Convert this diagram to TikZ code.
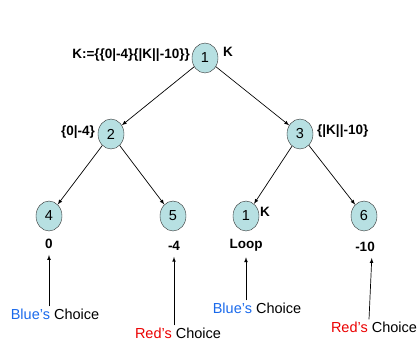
\documentclass[tikz,border=0pt]{standalone}
\usepackage{fontspec}
\setmainfont{Liberation Sans}
\usetikzlibrary{shapes.geometric}
\definecolor{vertfill}{RGB}{183,224,226}
\definecolor{bluechoice}{RGB}{25,105,235}
\definecolor{redchoice}{RGB}{235,0,0}

\begin{document}
\begin{tikzpicture}[x=1pt, y=-1pt,
		vert/.style={ellipse, draw=black!80, fill=vertfill, minimum width=26pt, minimum height=30pt, inner sep=0pt, font=\fontsize{14.5}{16}\selectfont},
		lbl/.style={inner sep=1pt, font=\bfseries\fontsize{13.5}{15}\selectfont},
		choice/.style={inner sep=2pt, font=\fontsize{14.5}{16}\selectfont},
		edge/.style={->, >=latex, line width=0.7pt}]
	\useasboundingbox (0,0) rectangle (417,343);

	\node[vert] (r) at (205,58) {1};
	\node[vert] (a) at (111,134) {2};
	\node[vert] (b) at (300,134) {3};
	\node[vert] (aa) at (49,216) {4};
	\node[vert] (ab) at (173,216) {5};
	\node[vert] (ba) at (246,216) {1};
	\node[vert] (bb) at (364,216) {6};

	\foreach \p/\c in {r/a, r/b, a/aa, a/ab, b/ba, b/bb}
		\draw[edge] (\p) -- (\c);

	\node[lbl, anchor=east] (defK) at (191,55) {K:=\{\{0|-4\}\{|K||-10\}\}};
	\node[lbl, anchor=west] (nameK) at (222,52) {K};
	\node[lbl, anchor=east] (setA) at (96,132) {\{0|-4\}};
	\node[lbl, anchor=west] (setB) at (316,131) {\{|K||-10\}};
	\node[lbl, anchor=west] (loopK) at (259,212) {K};

	\node[lbl] (v4) at (49,244) {0};
	\node[lbl] (v5) at (174,246) {-4};
	\node[lbl] (v1) at (246,245) {Loop};
	\node[lbl] (v6) at (365,247) {-10};

	\node[choice] (c4) at (55,314) {\textcolor{bluechoice}{Blue's} Choice};
	\node[choice] (c5) at (178,333) {\textcolor{redchoice}{Red's} Choice};
	\node[choice] (c1) at (257,308) {\textcolor{bluechoice}{Blue's} Choice};
	\node[choice] (c6) at (374,327) {\textcolor{redchoice}{Red's} Choice};

	\draw[edge, shorten >=5pt] (c4.north -| v4) -- (v4.south);
	\draw[edge, shorten >=5pt] (c5.north -| v5) -- (v5.south);
	\draw[edge, shorten >=5pt] (c1.north -| v1) -- (v1.south);
	\draw[edge, shorten >=5pt] (c6.north -| 369,0) -- (v6.south -| 372,0);
\end{tikzpicture}
\end{document}
